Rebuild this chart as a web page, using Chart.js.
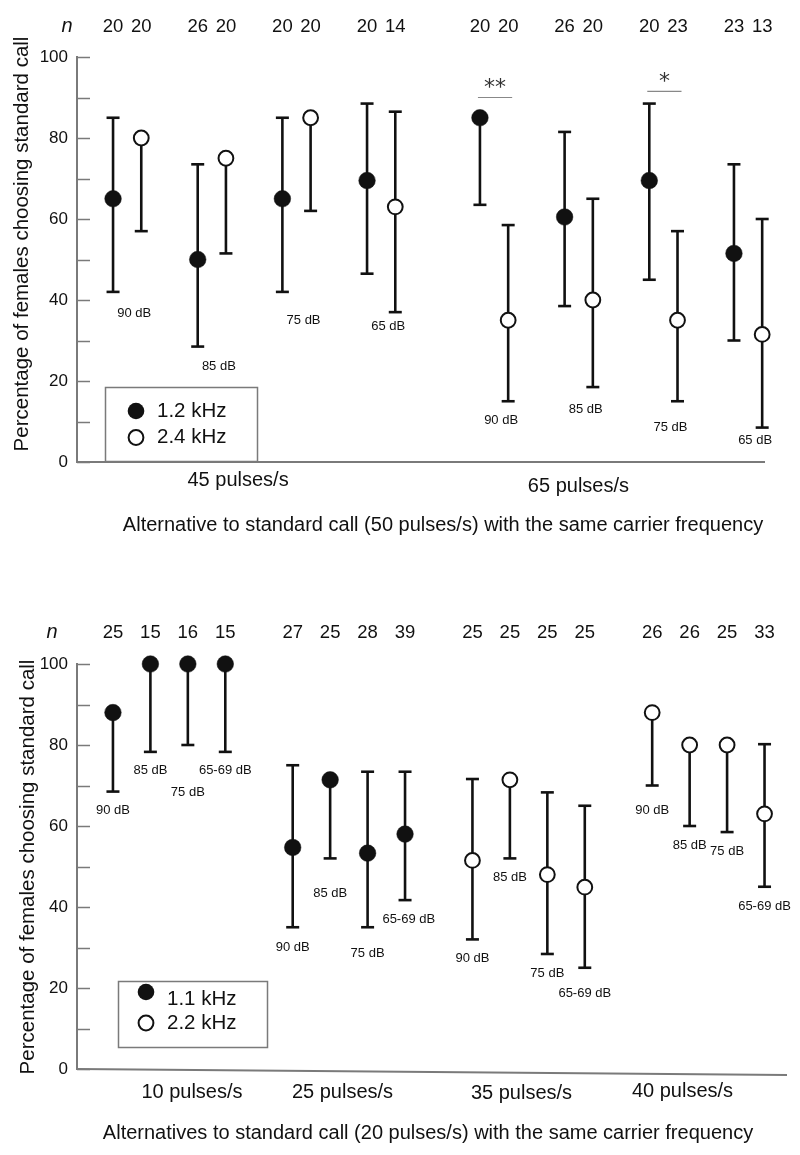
<!DOCTYPE html>
<html><head><meta charset="utf-8">
<script src="https://cdn.jsdelivr.net/npm/chart.js@4.4.1/dist/chart.umd.min.js"></script>
<style>
html,body{margin:0;padding:0;background:#fff;}
#top{position:absolute;left:0;top:0;width:800px;height:560px;}
#bot{position:absolute;left:0;top:560px;width:800px;height:595px;}
canvas{display:block;}
</style></head><body>
<div id="top"><canvas id="c1" width="800" height="560"></canvas></div>
<div id="bot"><canvas id="c2" width="800" height="595"></canvas></div>
<script>
// ---------- Panel A data ----------
const topGroups = ['45 pulses/s', '65 pulses/s'];
const topLevels = ['90 dB', '85 dB', '75 dB', '65 dB'];
const topFreqs = ['1.2 kHz', '2.4 kHz'];
// order: group -> level -> frequency (1.2, 2.4)
const topN     = [20, 20, 26, 20, 20, 20, 20, 14, 20, 20, 26, 20, 20, 23, 23, 13];
const topValue = [65, 80, 50, 75, 65, 85, 69.5, 63, 85, 35, 60.5, 40, 69.5, 35, 51.5, 31.5];
const topUpper = [85, 80, 73.5, 75, 85, 85, 88.5, 86.5, 85, 58.5, 81.5, 65, 88.5, 57, 73.5, 60];
const topLower = [42, 57, 28.5, 51.5, 42, 62, 46.5, 37, 63.5, 15, 38.5, 18.5, 45, 15, 30, 8.5];
const topSig = [{a: 8, b: 9, mark: '**', level: 90}, {a: 12, b: 13, mark: '*', level: 91.5}];

// ---------- Panel B data ----------
const botGroups = ['10 pulses/s', '25 pulses/s', '35 pulses/s', '40 pulses/s'];
const botLevels = ['90 dB', '85 dB', '75 dB', '65-69 dB'];
const botFreqs = ['1.1 kHz', '2.2 kHz'];
const botGroupFreq = [0, 0, 1, 1];
const botN     = [25, 15, 16, 15, 27, 25, 28, 39, 25, 25, 25, 25, 26, 26, 25, 33];
const botValue = [88, 100, 100, 100, 54.7, 71.4, 53.3, 58, 51.5, 71.4, 48, 44.9, 88, 80, 80, 63];
const botUpper = [88, 100, 100, 100, 75, 71.4, 73.4, 73.4, 71.6, 71.4, 68.3, 65, 88, 80, 80, 80.2];
const botLower = [68.5, 78.3, 80, 78.3, 35, 52, 35, 41.7, 32, 52, 28.4, 25, 70, 60, 58.5, 45];

const yTickValues = [0, 20, 40, 60, 80, 100];
const yTitle = 'Percentage of females choosing standard call';
const topXTitle = 'Alternative to standard call (50 pulses/s) with the same carrier frequency';
const botXTitle = 'Alternatives to standard call (20 pulses/s) with the same carrier frequency';

// ---------- layout / style ----------
const FONT = "'Liberation Sans', Arial, Helvetica, sans-serif";
const AXIS = '#7a7a7a';
const INK = '#111';

function slotTop(i) { return Math.floor(i / 8) * 13 + (Math.floor(i / 2) % 4) * 3 + (i % 2); }
function slotBot(i) { return Math.floor(i / 4) * 4.8 + (i % 4); }
function freqTop(i) { return i % 2; }
function freqBot(i) { return botGroupFreq[Math.floor(i / 4)]; }

function makeChart(canvas, cfg) {
  const idx = cfg.value.map((_, i) => i);
  const mk = f => idx.filter(i => cfg.freq(i) === f).map(i => ({x: cfg.slot(i), y: cfg.value[i]}));
  const ds = [0, 1].map(f => ({
    label: cfg.freqs[f],
    data: mk(f),
    showLine: false,
    pointRadius: f === 0 ? 8.3 : 7.4,
    pointHoverRadius: f === 0 ? 8.3 : 7.4,
    pointBackgroundColor: f === 0 ? INK : '#fff',
    pointBorderColor: INK,
    pointBorderWidth: f === 0 ? 0.5 : 2,
    clip: false
  }));

  const errPlugin = {
    id: 'err',
    beforeDatasetsDraw(chart) {
      const {ctx, scales: {x, y}} = chart;
      ctx.save();
      ctx.strokeStyle = INK; ctx.lineWidth = 2.6;
      idx.forEach(i => {
        const px = x.getPixelForValue(cfg.slot(i));
        const pu = y.getPixelForValue(cfg.upper[i]);
        const pl = y.getPixelForValue(cfg.lower[i]);
        ctx.beginPath(); ctx.moveTo(px, pu); ctx.lineTo(px, pl); ctx.stroke();
        const cw = 6.5;
        if (cfg.upper[i] > cfg.value[i] + 0.01) { ctx.beginPath(); ctx.moveTo(px - cw, pu); ctx.lineTo(px + cw, pu); ctx.stroke(); }
        if (cfg.lower[i] < cfg.value[i] - 0.01) { ctx.beginPath(); ctx.moveTo(px - cw, pl); ctx.lineTo(px + cw, pl); ctx.stroke(); }
      });
      ctx.restore();
    }
  };

  const annPlugin = {
    id: 'ann',
    afterDraw(chart) {
      const {ctx, chartArea: ca, scales: {x, y}} = chart;
      ctx.save();
      // inward ticks on y axis
      ctx.strokeStyle = AXIS; ctx.lineWidth = 1.5;
      for (let v = 0; v <= 100; v += 10) {
        const py = Math.round(y.getPixelForValue(v)) + 0.5;
        ctx.beginPath(); ctx.moveTo(ca.left, py); ctx.lineTo(ca.left + 13, py); ctx.stroke();
      }
      // x axis line
      ctx.strokeStyle = AXIS; ctx.lineWidth = 2;
      ctx.beginPath(); ctx.moveTo(ca.left, ca.bottom); ctx.lineTo(ca.right, ca.bottom + cfg.xAxisTilt); ctx.stroke();

      ctx.fillStyle = INK;
      ctx.textAlign = 'center'; ctx.textBaseline = 'middle';
      // n labels
      ctx.font = '18.5px ' + FONT;
      idx.forEach(i => ctx.fillText(String(cfg.n[i]), x.getPixelForValue(cfg.slot(i)), cfg.nY));
      ctx.font = 'italic 20px ' + FONT;
      ctx.fillText('n', cfg.nX, cfg.nY - 1);
      // dB labels
      ctx.font = '13px ' + FONT;
      cfg.dbLabels.forEach(d => {
        const px = x.getPixelForValue(d.xv);
        const py = y.getPixelForValue(d.low) + d.dy;
        ctx.fillText(d.text, px, py);
      });
      // group labels
      ctx.font = '20px ' + FONT;
      cfg.groups.forEach((g, k) => ctx.fillText(g, x.getPixelForValue(cfg.groupX[k]), cfg.groupY[k]));
      // x title
      ctx.font = '20px ' + FONT;
      ctx.fillText(cfg.xTitle, cfg.xTitleX, cfg.xTitleY);
      // y title
      ctx.save();
      ctx.translate(cfg.yTitleX, cfg.yTitleY); ctx.rotate(-Math.PI / 2);
      ctx.font = '20.5px ' + FONT;
      ctx.fillText(yTitle, 0, 0);
      ctx.restore();
      // significance
      (cfg.sig || []).forEach(s => {
        const xa = x.getPixelForValue(cfg.slot(s.a)), xb = x.getPixelForValue(cfg.slot(s.b));
        const py = y.getPixelForValue(s.level);
        ctx.strokeStyle = '#888'; ctx.lineWidth = 1.2;
        ctx.beginPath(); ctx.moveTo(xa - 2, py); ctx.lineTo(xb + 4, py); ctx.stroke();
        ctx.font = '22px ' + "'DejaVu Sans', sans-serif";
        ctx.fillStyle = '#333';
        ctx.fillText(s.mark, (xa + xb) / 2 + 1, py - 9);
        ctx.fillStyle = INK;
      });
      // legend
      const L = cfg.legend;
      ctx.strokeStyle = AXIS; ctx.lineWidth = 1.5;
      ctx.strokeRect(L.x0 + 0.5, L.y0 + 0.5, L.x1 - L.x0, L.y1 - L.y0);
      ctx.textAlign = 'left';
      ctx.font = '20.5px ' + FONT;
      [0, 1].forEach(f => {
        const cy = L.rows[f];
        ctx.beginPath(); ctx.arc(L.cx, cy, f === 0 ? 8.3 : 7.4, 0, Math.PI * 2);
        if (f === 0) { ctx.fillStyle = INK; ctx.fill(); }
        else { ctx.fillStyle = '#fff'; ctx.fill(); ctx.strokeStyle = INK; ctx.lineWidth = 2; ctx.stroke(); }
        ctx.fillStyle = INK;
        ctx.fillText(cfg.freqs[f], L.tx, L.textRows[f]);
      });
      ctx.restore();
    }
  };

  return new Chart(canvas, {
    type: 'scatter',
    data: {datasets: ds},
    options: {
      responsive: false, animation: false, devicePixelRatio: 1,
      layout: {padding: cfg.padding},
      plugins: {legend: {display: false}, tooltip: {enabled: false}},
      events: [],
      scales: {
        x: {
          type: 'linear', min: cfg.xMin, max: cfg.xMax,
          ticks: {display: false}, grid: {display: false, drawTicks: false},
          border: {display: false},
          afterFit: s => { s.height = 0; }
        },
        y: {
          min: 0, max: 100,
          afterBuildTicks: s => { s.ticks = yTickValues.map(v => ({value: v})); },
          ticks: {color: INK, padding: 9, font: {family: FONT, size: 17}},
          grid: {display: false, drawTicks: false},
          border: {display: true, color: AXIS, width: 2},
          afterFit: s => { s.width = 77; }
        }
      }
    },
    plugins: [errPlugin, annPlugin]
  });
}

// pair-level dB labels for panel A
const topDb = [];
for (let p = 0; p < 8; p++) {
  const a = 2 * p, b = 2 * p + 1;
  topDb.push({text: topLevels[p % 4], xv: (slotTop(a) + slotTop(b)) / 2 + 0.25,
    low: Math.min(topLower[a], topLower[b]), dy: [22, 20, 29, 14, 19, 22, 26, 13][p]});
}
const botDb = botLevels.concat(botLevels, botLevels, botLevels).map((t, i) => ({
  text: t, xv: slotBot(i), low: botLower[i],
  dy: [19, 19, 47, 19, 20, 35, 26, 19, 19, 19, 19, 26, 25, 19, 19, 20][i]
}));
botDb[7].xv += 0.1;

makeChart(document.getElementById('c1'), {
  value: topValue, upper: topUpper, lower: topLower, n: topN, freqs: topFreqs,
  slot: slotTop, freq: freqTop, sig: topSig,
  padding: {left: 0, right: 35, top: 57, bottom: 98},
  xMin: -1.277, xMax: 23.1, xAxisTilt: 0,
  nY: 27, nX: 67,
  dbLabels: topDb,
  groups: topGroups, groupX: [4.43, 16.49], groupY: [480, 486],
  xTitle: topXTitle, xTitleX: 443, xTitleY: 525,
  yTitleX: 22, yTitleY: 244,
  legend: {x0: 105, y0: 387, x1: 257, y1: 461, cx: 136, tx: 157, rows: [411, 437.5], textRows: [411, 437.5]}
});

makeChart(document.getElementById('c2'), {
  value: botValue, upper: botUpper, lower: botLower, n: botN, freqs: botFreqs,
  slot: slotBot, freq: freqBot,
  padding: {left: 0, right: 13, top: 104, bottom: 86},
  xMin: -0.96, xMax: 18.0, xAxisTilt: 6,
  nY: 73, nX: 52,
  dbLabels: botDb,
  groups: botGroups, groupX: [2.11, 6.13, 10.91, 15.21], groupY: [532, 532, 533, 531],
  xTitle: botXTitle, xTitleX: 428, xTitleY: 573,
  yTitleX: 28, yTitleY: 307,
  legend: {x0: 118, y0: 421, x1: 267, y1: 487, cx: 146, tx: 167, rows: [432, 463], textRows: [439, 463]}
});
</script>
</body></html>
